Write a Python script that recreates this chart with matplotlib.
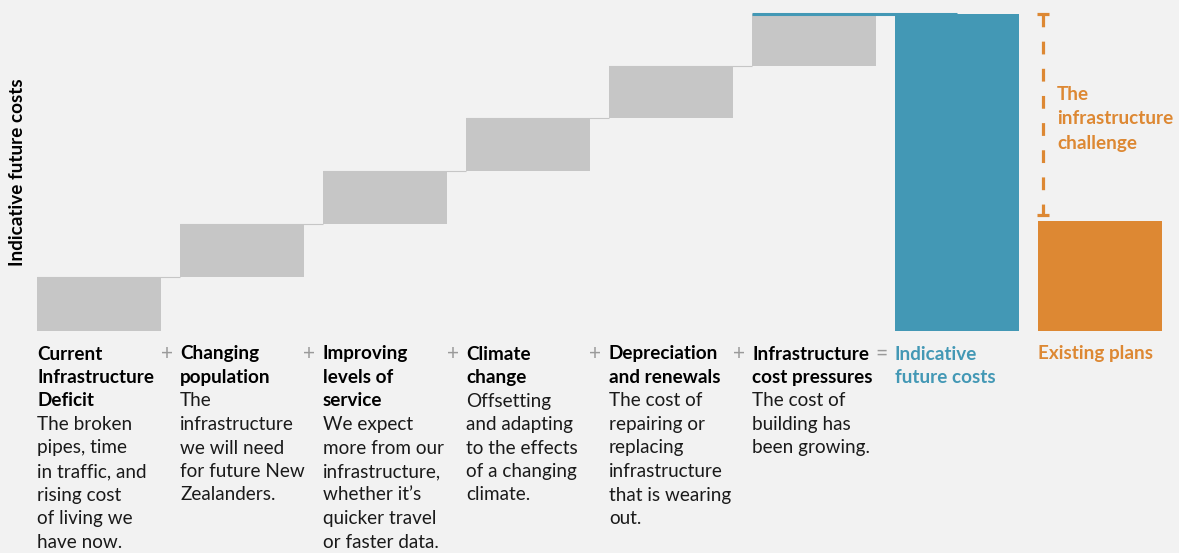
import numpy as np
import matplotlib.pyplot as plt

plt.rcParams['font.family'] = ['Lato', 'DejaVu Sans']

# step sizes of the cost pressures (relative units)
steps = [1.02, 1.00, 1.00, 1.00, 0.98, 0.98]
existing = 2.08

headers = [["Current", "Infrastructure", "Deficit"],
           ["Changing", "population"],
           ["Improving", "levels of", "service"],
           ["Climate", "change"],
           ["Depreciation", "and renewals"],
           ["Infrastructure", "cost pressures"],
           ["Indicative", "future costs"],
           ["Existing plans"]]
bodies = [["The broken", "pipes, time", "in traffic, and", "rising cost", "of living we", "have now."],
          ["The", "infrastructure", "we will need", "for future New", "Zealanders."],
          ["We expect", "more from our", "infrastructure,", "whether it\u2019s", "quicker travel", "or faster data."],
          ["Offsetting", "and adapting", "to the effects", "of a changing", "climate."],
          ["The cost of", "repairing or", "replacing", "infrastructure", "that is wearing", "out."],
          ["The cost of", "building has", "been growing."],
          [], []]
operators = ["+", "+", "+", "+", "+", "="]

BG = '#f2f2f2'
GREY = '#c6c6c6'
BLUE = '#4398b5'
ORANGE = '#dd8833'
OPGREY = '#9a9a9a'

U = 53.0  # pixels per unit
W, H = 1179, 553
base_px = 331
FS = 13.6

fig = plt.figure(figsize=(W / 100, H / 100), dpi=100, facecolor=BG)
ax = fig.add_axes([0, 0, 1, 1])
ax.set_facecolor(BG)
ax.set_xlim(-99 / 143, (W - 99) / 143)
ax.set_ylim(-(H - base_px) / U, base_px / U)
ax.axis('off')

def py(p):
    # pixel row from top -> data y
    return (base_px - p) / U

bw = 124 / 143
cum = np.concatenate([[0], np.cumsum(steps)])
total = cum[-1]
x = np.arange(len(steps))
ax.bar(x, steps, bottom=cum[:-1], width=bw, color=GREY, linewidth=0)
for i in range(len(steps) - 1):
    ax.hlines(cum[i + 1], i - bw / 2, i + 1 - bw / 2, color=GREY, lw=0.8)
ax.bar(6, total, width=bw, color=BLUE, linewidth=0)
ax.hlines(total, 5 - bw / 2, 6, color=BLUE, lw=2.2)
ax.bar(7, existing, width=bw, color=ORANGE, linewidth=0)

# challenge bracket
bx = 7 - bw / 2 + 5 / 143
ytop, ybot = total, existing + 0.1
ax.plot([bx, bx], [ytop, ybot], color=ORANGE, lw=2.3, dashes=(4, 4.5))
for yy in (ytop, ybot):
    ax.hlines(yy, bx - 6 / 143, bx + 6 / 143, color=ORANGE, lw=2.3)
for k, s in enumerate(["The", "infrastructure", "challenge"]):
    ax.text(bx + 14 / 143, py(95 + 24 * k), s, color=ORANGE, fontsize=FS,
            fontweight='bold', va='center', ha='left')

ax.text(-81 / 143, py(172), "Indicative future costs", rotation=90, fontsize=FS,
        fontweight='bold', va='center', ha='center', color='black')

# labels below the bars
lh = 23.5
for i in range(len(headers)):
    left = i - bw / 2
    col = 'black'
    if i == 6:
        col = BLUE
    elif i == 7:
        col = ORANGE
    row = 0
    for s in headers[i]:
        ax.text(left, py(354 + lh * row), s, fontsize=FS, fontweight='bold',
                color=col, va='center', ha='left')
        row += 1
    for s in bodies[i]:
        ax.text(left, py(354 + lh * row), s, fontsize=FS, color='#1a1a1a',
                va='center', ha='left')
        row += 1
for i, op in enumerate(operators):
    ax.text(i + 0.5 - 4 / 143, py(354), op, fontsize=15, color=OPGREY,
            va='center', ha='center')

fig.savefig('out.png', dpi=100, facecolor=BG)
